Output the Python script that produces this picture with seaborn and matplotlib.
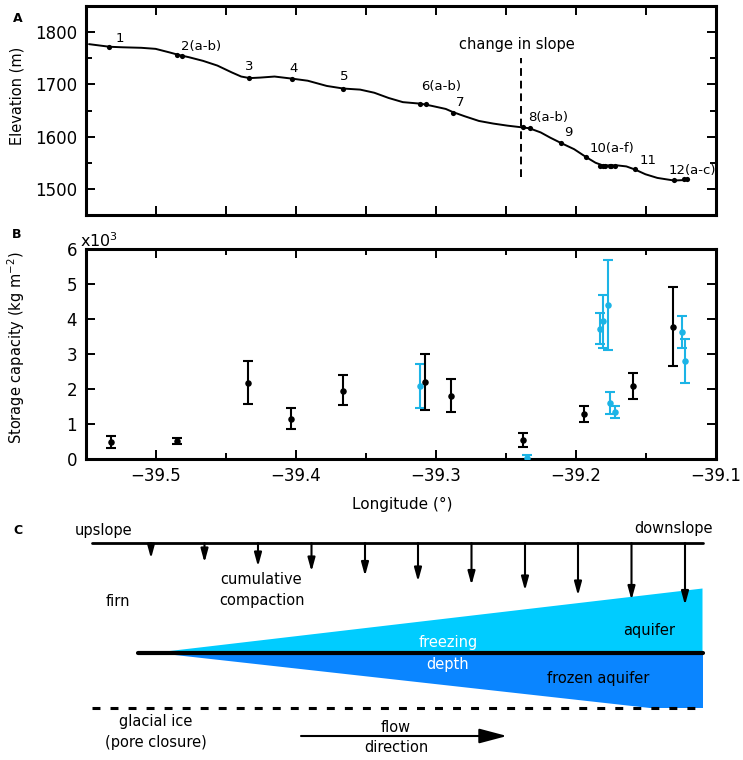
import matplotlib
matplotlib.use("Agg")
import matplotlib.pyplot as plt
from matplotlib.ticker import MultipleLocator
import seaborn as sns

sns.set_style("ticks")
plt.rcParams["font.family"] = ["DejaVu Sans"]
plt.rcParams.update({"axes.edgecolor": "black", "text.color": "black",
                     "axes.labelcolor": "black", "xtick.color": "black",
                     "ytick.color": "black"})

CYAN = "#1CB4E6"
AQ_LIGHT = "#00CCFF"
AQ_DARK = "#0A85FF"

# ---------- Panel A: elevation profile ----------
profile_lon = [-39.5475, -39.5329, -39.5238, -39.5102, -39.5000, -39.4898, -39.4830,
               -39.4762, -39.4661, -39.4559, -39.4457, -39.4389, -39.4328, -39.4253,
               -39.4151, -39.4026, -39.3914, -39.3778, -39.3659, -39.3540, -39.3439,
               -39.3337, -39.3235, -39.3106, -39.3031, -39.2929, -39.2878, -39.2794,
               -39.2692, -39.2590, -39.2488, -39.2393, -39.2332, -39.2251, -39.2183,
               -39.2108, -39.2013, -39.1928, -39.1860, -39.1809, -39.1707, -39.1640,
               -39.1578, -39.1504, -39.1419, -39.1300, -39.1215]
profile_elev = [1777, 1772, 1771, 1770, 1768, 1761, 1756,
                1752, 1745, 1736, 1723, 1715, 1712, 1713,
                1715, 1711, 1707, 1697, 1692, 1690, 1684,
                1674, 1666, 1663, 1659, 1653, 1647, 1639,
                1630, 1625, 1621, 1618, 1616, 1608, 1598,
                1588, 1576, 1561, 1550, 1545, 1545, 1543,
                1537, 1528, 1521, 1516, 1517]

site_lon = [-39.533, -39.485, -39.481, -39.433, -39.4026, -39.366, -39.311, -39.307,
            -39.288, -39.238, -39.233, -39.211, -39.193, -39.183, -39.181, -39.179,
            -39.176, -39.175, -39.172, -39.158, -39.130, -39.123, -39.121]
site_elev = [1772, 1757, 1755, 1712, 1710, 1692, 1663, 1662,
             1646, 1618, 1616, 1588, 1561, 1544, 1543, 1543,
             1543, 1543, 1543, 1538, 1517, 1519, 1519]

site_labels = ["1", "2(a-b)", "3", "4", "5", "6(a-b)", "7", "8(a-b)", "9",
               "10(a-f)", "11", "12(a-c)"]
label_lon = [-39.5255, -39.4678, -39.4328, -39.4016, -39.3652, -39.2963, -39.2828,
             -39.2200, -39.2054, -39.1741, -39.1487, -39.1170]
label_elev = [1788, 1772, 1734, 1731, 1716, 1696, 1666, 1637, 1608, 1577, 1555, 1536]

slope_break_lon = -39.2393
slope_break_elev = [1523, 1750]

# ---------- Panel B: storage capacity (x10^3 kg m-2) ----------
black_lon = [-39.532, -39.485, -39.434, -39.403, -39.366, -39.308, -39.289,
             -39.238, -39.194, -39.159, -39.131]
black_val = [0.49, 0.52, 2.18, 1.15, 1.95, 2.21, 1.81, 0.53, 1.29, 2.10, 3.79]
black_hi = [0.65, 0.59, 2.80, 1.45, 2.40, 3.01, 2.29, 0.74, 1.52, 2.47, 4.92]
black_lo = [0.31, 0.43, 1.57, 0.86, 1.53, 1.39, 1.34, 0.33, 1.05, 1.71, 2.66]

blue_lon = [-39.311, -39.235, -39.183, -39.181, -39.177, -39.176, -39.172,
            -39.124, -39.122]
blue_val = [2.08, 0.04, 3.73, 3.94, 4.41, 1.59, 1.34, 3.64, 2.80]
blue_hi = [2.71, 0.10, 4.18, 4.68, 5.68, 1.91, 1.51, 4.10, 3.43]
blue_lo = [1.46, 0.00, 3.28, 3.18, 3.13, 1.30, 1.16, 3.18, 2.16]

# ---------- Panel C: schematic (figure pixel space) ----------
surface_x = [92, 702.5]
surface_y = 543
arrow_x = [151, 204.5, 258, 311.5, 365, 418, 471.5, 525, 578, 631.5, 685]
arrow_tip = [558.5, 562.5, 566.5, 571.5, 576, 581.5, 585, 590.5, 595.5, 600, 605]
aquifer_x = [157, 702.5, 702.5]
aquifer_y = [652.5, 588.5, 652.5]
frozen_x = [157, 702.5, 702.5, 650]
frozen_y = [652.5, 652.5, 708, 708]
freeze_x = [138, 702.5]
freeze_y = 652.5
closure_x = [92, 702.5]
closure_y = 708
flow_x = [301, 507]
flow_y = 736

fig = plt.figure(figsize=(7.43, 7.6), dpi=100)
axA = fig.add_axes([0.1151, 0.7171, 0.8486, 0.2750])
axB = fig.add_axes([0.1151, 0.3961, 0.8486, 0.2759])
axC = fig.add_axes([0, 0, 1, 250 / 760])


def style(ax):
    for s in ax.spines.values():
        s.set_visible(True)
        s.set_linewidth(2.2)
    ax.tick_params(which="both", direction="in", top=True, right=True, width=1.4,
                   labelsize=12, pad=6)
    ax.tick_params(which="major", length=6.5)
    ax.tick_params(which="minor", length=4)


# ---------- Panel A ----------
sns.lineplot(x=profile_lon, y=profile_elev, sort=False, estimator=None,
             color="black", linewidth=1.4, ax=axA)
sns.scatterplot(x=site_lon, y=site_elev, s=14, color="black", linewidth=0,
                ax=axA, zorder=3)
for lab, lx, ly in zip(site_labels, label_lon, label_elev):
    axA.text(lx, ly, lab, fontsize=9.5, ha="center", va="center", clip_on=False,
             zorder=6)
axA.plot([slope_break_lon] * 2, slope_break_elev, color="black", lw=1.4,
         ls=(0, (4, 2.5)))
axA.text(-39.242, 1777, "change in slope", fontsize=10.5, ha="center", va="center")
axA.set_xlim(-39.55, -39.1)
axA.set_ylim(1450, 1850)
axA.xaxis.set_major_locator(MultipleLocator(0.05))
axA.yaxis.set_major_locator(MultipleLocator(100))
axA.yaxis.set_minor_locator(MultipleLocator(50))
style(axA)
axA.tick_params(labelbottom=False)
axA.set_ylabel("Elevation (m)", fontsize=10.5)
axA.yaxis.set_label_coords(-0.097, 0.57)

# ---------- Panel B ----------
axB.errorbar(blue_lon, blue_val,
             yerr=[[v - l for v, l in zip(blue_val, blue_lo)],
                   [h - v for v, h in zip(blue_val, blue_hi)]],
             fmt="none", ecolor=CYAN, elinewidth=1.5, capsize=3.6, capthick=1.5,
             clip_on=False)
sns.scatterplot(x=blue_lon, y=blue_val, s=22, color=CYAN, linewidth=0, ax=axB,
                zorder=3)
axB.errorbar(black_lon, black_val,
             yerr=[[v - l for v, l in zip(black_val, black_lo)],
                   [h - v for v, h in zip(black_val, black_hi)]],
             fmt="none", ecolor="black", elinewidth=1.5, capsize=3.6, capthick=1.5)
sns.scatterplot(x=black_lon, y=black_val, s=22, color="black", linewidth=0, ax=axB,
                zorder=3)
axB.set_xlim(-39.55, -39.1)
axB.set_ylim(0, 6)
axB.xaxis.set_major_locator(MultipleLocator(0.1))
axB.xaxis.set_minor_locator(MultipleLocator(0.05))
axB.yaxis.set_major_locator(MultipleLocator(1))
style(axB)
axB.set_xticklabels([f"{t:.1f}".replace("-", "\u2212") for t in axB.get_xticks()])
axB.set_yticklabels([f"{t:.0f}" for t in axB.get_yticks()])
axB.set_ylabel("Storage capacity (kg m$^{-2}$)", fontsize=10.5)
axB.yaxis.set_label_coords(-0.093, 0.53)
axB.set_xlabel("Longitude (\u00b0)", fontsize=11)
axB.xaxis.set_label_coords(0.503, -0.18)
axB.text(-0.009, 1.041, r"x10$^3$", transform=axB.transAxes, fontsize=11.5,
         ha="left", va="center")

# ---------- Panel C ----------
axC.set_xlim(0, 743)
axC.set_ylim(760, 510)
axC.axis("off")
axC.fill(aquifer_x, aquifer_y, color=AQ_LIGHT, lw=0)
axC.fill(frozen_x, frozen_y, color=AQ_DARK, lw=0)
axC.plot(surface_x, [surface_y] * 2, color="black", lw=2)
axC.plot(freeze_x, [freeze_y] * 2, color="black", lw=3)
axC.plot(closure_x, [closure_y] * 2, color="black", lw=2.2, ls=(0, (2.6, 3.3)))
for x, tip in zip(arrow_x, arrow_tip):
    axC.annotate("", xy=(x, tip), xytext=(x, surface_y),
                 arrowprops=dict(arrowstyle="-|>,head_length=0.8,head_width=0.22",
                                 lw=1.5, color="black", shrinkA=0, shrinkB=0))
axC.annotate("", xy=(flow_x[1], flow_y), xytext=(flow_x[0], flow_y),
             arrowprops=dict(arrowstyle="-|>,head_length=1.7,head_width=0.45",
                             lw=1.5, color="black", shrinkA=0, shrinkB=0))

txt = dict(fontsize=10.5, ha="center", va="center")
axC.text(75, 530, "upslope", fontsize=10.5, ha="left", va="center")
axC.text(713, 529, "downslope", fontsize=10.5, ha="right", va="center")
axC.text(118, 601, "firn", **txt)
axC.text(261.5, 579, "cumulative", **txt)
axC.text(261.5, 600, "compaction", **txt)
axC.text(649, 631, "aquifer", **txt)
axC.text(448, 643, "freezing", color="white", **txt)
axC.text(448, 664, "depth", color="white", **txt)
axC.text(598, 678, "frozen aquifer", **txt)
axC.text(156, 721.5, "glacial ice", **txt)
axC.text(156, 743, "(pore closure)", **txt)
axC.text(396, 727, "flow", **txt)
axC.text(396, 748, "direction", **txt)

# ---------- Panel letters ----------
for lab, px, py in [("A", 18, 18), ("B", 17, 234), ("C", 18, 530)]:
    fig.text(px / 743, 1 - py / 760, lab, fontsize=9, fontweight="bold",
             ha="center", va="center")

fig.savefig("out.png", dpi=100)
